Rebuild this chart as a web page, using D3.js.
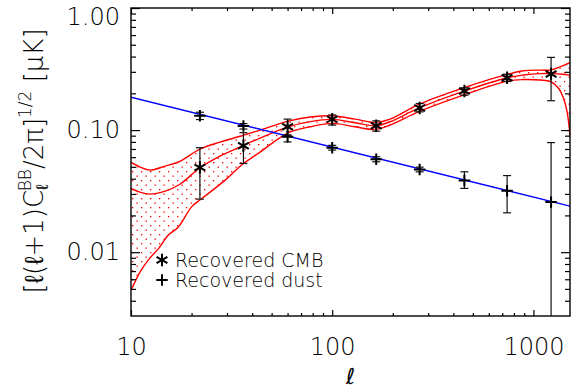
<!DOCTYPE html>
<html>
<head>
<meta charset="utf-8">
<script src="https://cdn.jsdelivr.net/npm/d3@7"></script>
<style>
  body { margin: 0; background: #fff; }
  text { font-family: "DejaVu Sans", sans-serif; font-weight: 200; fill: #000; }
</style>
</head>
<body>
<svg width="572" height="392"></svg>
<script>
// multipole bins of the recovered spectra
var binL = [22, 36.2, 60, 100, 165.5, 272, 454, 740, 1224];

// recovered CMB (asterisks) with error bars
var cmbVal = [0.0494, 0.0743, 0.1064, 0.1224, 0.1084, 0.152, 0.209, 0.268, 0.288];
var cmbLo  = [0.0272, 0.0533, 0.0909, 0.110, 0.098, 0.141, 0.193, 0.250, 0.174];
var cmbHi  = [0.0717, 0.0952, 0.123, 0.133, 0.119, 0.165, 0.222, 0.287, 0.394];

// recovered dust (plus signs) with error bars
var dustVal = [0.131, 0.108, 0.088, 0.0716, 0.0578, 0.0476, 0.0387, 0.0318, 0.0257];
var dustLo  = [0.122, 0.102, 0.080, 0.0686, 0.055, 0.0455, 0.0333, 0.021, 0.001];
var dustHi  = [0.140, 0.113, 0.091, 0.075, 0.0605, 0.0497, 0.0455, 0.0424, 0.079];

// dust model (blue line), [ell, value]
var dustModel = [[10, 0.186], [1520, 0.0238]];

// CMB band: upper, middle, lower curves, [ell, value]
var bandUpper = [[10, 0.0543], [11.1, 0.0498], [12.4, 0.047], [14.8, 0.0507], [17.5, 0.0555],
  [22, 0.0698], [27.7, 0.0797], [35.6, 0.0898], [43.8, 0.100], [60.4, 0.1185], [77.8, 0.128],
  [100, 0.131], [130, 0.123], [164, 0.1156], [194, 0.123], [271, 0.163], [449, 0.222],
  [743, 0.286], [891, 0.306], [1083, 0.31], [1216, 0.31], [1363, 0.331], [1520, 0.357]];
var bandMiddle = [[10, 0.0333], [11.1, 0.031], [12.4, 0.0299], [14.8, 0.0316], [17.5, 0.036],
  [22, 0.0491], [27.7, 0.0612], [35.6, 0.074], [43.8, 0.086], [60.4, 0.1064], [77.8, 0.1174],
  [100, 0.1224], [130, 0.1148], [164, 0.1084], [194, 0.117], [271, 0.152], [449, 0.2075],
  [743, 0.2685], [891, 0.2825], [1083, 0.29], [1216, 0.29], [1363, 0.288], [1520, 0.282]];
var bandLower = [[10, 0.00489], [10.47, 0.00571], [11.1, 0.0069], [12.4, 0.00893], [13.7, 0.0107],
  [15.3, 0.01377], [17.2, 0.0161], [20, 0.0235], [22.5, 0.0275], [29.4, 0.0389], [35.6, 0.052],
  [43.8, 0.066], [60.4, 0.095], [77.8, 0.1064], [100, 0.1135], [130, 0.1064], [164, 0.1013],
  [194, 0.110], [271, 0.1423], [449, 0.1936], [743, 0.252], [891, 0.2594], [1083, 0.257],
  [1216, 0.25], [1330, 0.221], [1410, 0.183], [1471, 0.1406], [1520, 0.091]];

// ticks
var xMajor = [10, 100, 1000];
var xMinor = [20, 30, 40, 50, 60, 70, 80, 90, 200, 300, 400, 500, 600, 700, 800, 900];
var yMajor = [0.01, 0.1, 1];
var yMinor = [0.004, 0.005, 0.006, 0.007, 0.008, 0.009, 0.02, 0.03, 0.04, 0.05, 0.06, 0.07,
  0.08, 0.09, 0.2, 0.3, 0.4, 0.5, 0.6, 0.7, 0.8, 0.9];
var yTickLabels = {0.01: "0.01", 0.1: "0.10", 1: "1.00"};

var legendItems = ["Recovered CMB", "Recovered dust"];

var margin = {top: 8, bottom: 76, right: 2, left: 131},
    width = 572 - margin.left - margin.right,
    height = 392 - margin.top - margin.bottom;

var svg = d3.select("svg");

var x = d3.scaleLog().domain([10, 1520]).range([0, width]);
var y = d3.scaleLog().domain([0.003, 1]).range([height, 0]);

var defs = svg.append("defs");
defs.append("clipPath").attr("id", "plotclip")
  .append("rect").attr("width", width).attr("height", height);
var pat = defs.append("pattern").attr("id", "dots")
  .attr("patternUnits", "userSpaceOnUse").attr("width", 9).attr("height", 9);
pat.append("rect").attr("x", 1).attr("y", 1).attr("width", 1.3).attr("height", 1.3).attr("fill", "red");
pat.append("rect").attr("x", 5.5).attr("y", 5.5).attr("width", 1.3).attr("height", 1.3).attr("fill", "red");

var g = svg.append("g").attr("transform", "translate(" + margin.left + "," + margin.top + ")");
var plot = g.append("g").attr("clip-path", "url(#plotclip)");

var line = d3.line()
  .x(function(d) { return x(d[0]); })
  .y(function(d) { return y(d[1]); })
  .curve(d3.curveCatmullRom);

// hatched band between upper and lower curves
var bandPath = line(bandUpper) + "L" + line(bandLower.slice().reverse()).slice(1) + "Z";
plot.append("path").attr("d", bandPath).attr("fill", "url(#dots)").attr("stroke", "none");

[bandUpper, bandMiddle, bandLower].forEach(function(c) {
  plot.append("path").attr("d", line(c))
    .attr("fill", "none").attr("stroke", "red").attr("stroke-width", 1.4);
});

plot.append("path").attr("d", d3.line()
    .x(function(d) { return x(d[0]); })
    .y(function(d) { return y(d[1]); })(dustModel))
  .attr("fill", "none").attr("stroke", "blue").attr("stroke-width", 1.4);

// error bars
function errorBars(vals, lo, hi) {
  var eg = plot.append("g").attr("stroke", "#111").attr("stroke-width", 1.2);
  binL.forEach(function(l, i) {
    var cx = x(l);
    eg.append("line").attr("x1", cx).attr("x2", cx).attr("y1", y(lo[i])).attr("y2", y(hi[i]));
    eg.append("line").attr("x1", cx - 4).attr("x2", cx + 4).attr("y1", y(lo[i])).attr("y2", y(lo[i]));
    eg.append("line").attr("x1", cx - 4).attr("x2", cx + 4).attr("y1", y(hi[i])).attr("y2", y(hi[i]));
  });
}
errorBars(cmbVal, cmbLo, cmbHi);
errorBars(dustVal, dustLo, dustHi);

var star = d3.symbol().type(d3.symbolAsterisk).size(110);
var plus = d3.symbol().type(d3.symbolPlus).size(45);

plot.selectAll(".cmb").data(cmbVal).enter().append("path")
  .attr("transform", function(d, i) { return "translate(" + x(binL[i]) + "," + y(d) + ")"; })
  .attr("d", star).attr("fill", "none").attr("stroke", "#000").attr("stroke-width", 2);

plot.selectAll(".dust").data(dustVal).enter().append("path")
  .attr("transform", function(d, i) { return "translate(" + x(binL[i]) + "," + y(d) + ")"; })
  .attr("d", plus).attr("fill", "none").attr("stroke", "#000").attr("stroke-width", 2);

// axes, IDL style: ticks inside on all four sides
function styleAxis(sel) {
  sel.select(".domain").remove();
  sel.selectAll("line").attr("stroke", "#000").attr("stroke-width", 1.2);
}
g.append("g").attr("transform", "translate(0," + height + ")")
  .call(d3.axisBottom(x).tickValues(xMinor).tickSize(-3).tickFormat("")).call(styleAxis);
g.append("g").attr("transform", "translate(0," + height + ")")
  .call(d3.axisBottom(x).tickValues(xMajor).tickSize(-6).tickPadding(22).tickFormat(d3.format("d")))
  .call(styleAxis)
  .selectAll("text").style("font-size", "24px");
g.append("g")
  .call(d3.axisTop(x).tickValues(xMinor).tickSize(-3).tickFormat("")).call(styleAxis);
g.append("g")
  .call(d3.axisTop(x).tickValues(xMajor).tickSize(-6).tickFormat("")).call(styleAxis);

g.append("g")
  .call(d3.axisLeft(y).tickValues(yMinor).tickSize(-5).tickFormat("")).call(styleAxis);
var yl = g.append("g")
  .call(d3.axisLeft(y).tickValues(yMajor).tickSize(-9).tickPadding(11)
    .tickFormat(function(d) { return yTickLabels[d]; }))
  .call(styleAxis);
yl.selectAll("text").style("font-size", "24px");
yl.selectAll("text").filter(function(d) { return d === 1; }).attr("dy", "0.7em");

g.append("g").attr("transform", "translate(" + width + ",0)")
  .call(d3.axisRight(y).tickValues(yMinor).tickSize(-5).tickFormat("")).call(styleAxis);
g.append("g").attr("transform", "translate(" + width + ",0)")
  .call(d3.axisRight(y).tickValues(yMajor).tickSize(-9).tickFormat("")).call(styleAxis);

g.append("rect").attr("width", width).attr("height", height)
  .attr("fill", "none").attr("stroke", "#000").attr("stroke-width", 1.4);

// legend
var leg = g.append("g").attr("transform", "translate(31,252)");
leg.append("path").attr("d", star).attr("fill", "none").attr("stroke", "#000").attr("stroke-width", 2);
leg.append("path").attr("transform", "translate(0,20)").attr("d", plus)
  .attr("fill", "none").attr("stroke", "#000").attr("stroke-width", 2);
leg.selectAll(".lt").data(legendItems).enter().append("text")
  .attr("x", 13).attr("y", function(d, i) { return i * 20 + 7; })
  .style("font-size", "19px")
  .text(function(d) { return d; });

// axis titles
svg.append("text")
  .attr("x", margin.left + width / 2).attr("y", 384)
  .attr("text-anchor", "middle")
  .style("font-size", "22px").style("font-style", "italic")
  .text("\u2113");

var yt = svg.append("text")
  .attr("transform", "translate(43,161) rotate(-90)")
  .attr("text-anchor", "middle")
  .style("font-size", "26px");
yt.append("tspan").text("[\u2113(\u2113+1)C");
yt.append("tspan").attr("dy", 5).style("font-size", "17px").text("\u2113");
yt.append("tspan").attr("dx", -7).attr("dy", -17).style("font-size", "17px").text("BB");
yt.append("tspan").attr("dy", 12).text("/2\u03c0]");
yt.append("tspan").attr("dy", -12).style("font-size", "17px").text("1/2");
yt.append("tspan").attr("dy", 12).text(" [\u03bcK]");
</script>
</body>
</html>
